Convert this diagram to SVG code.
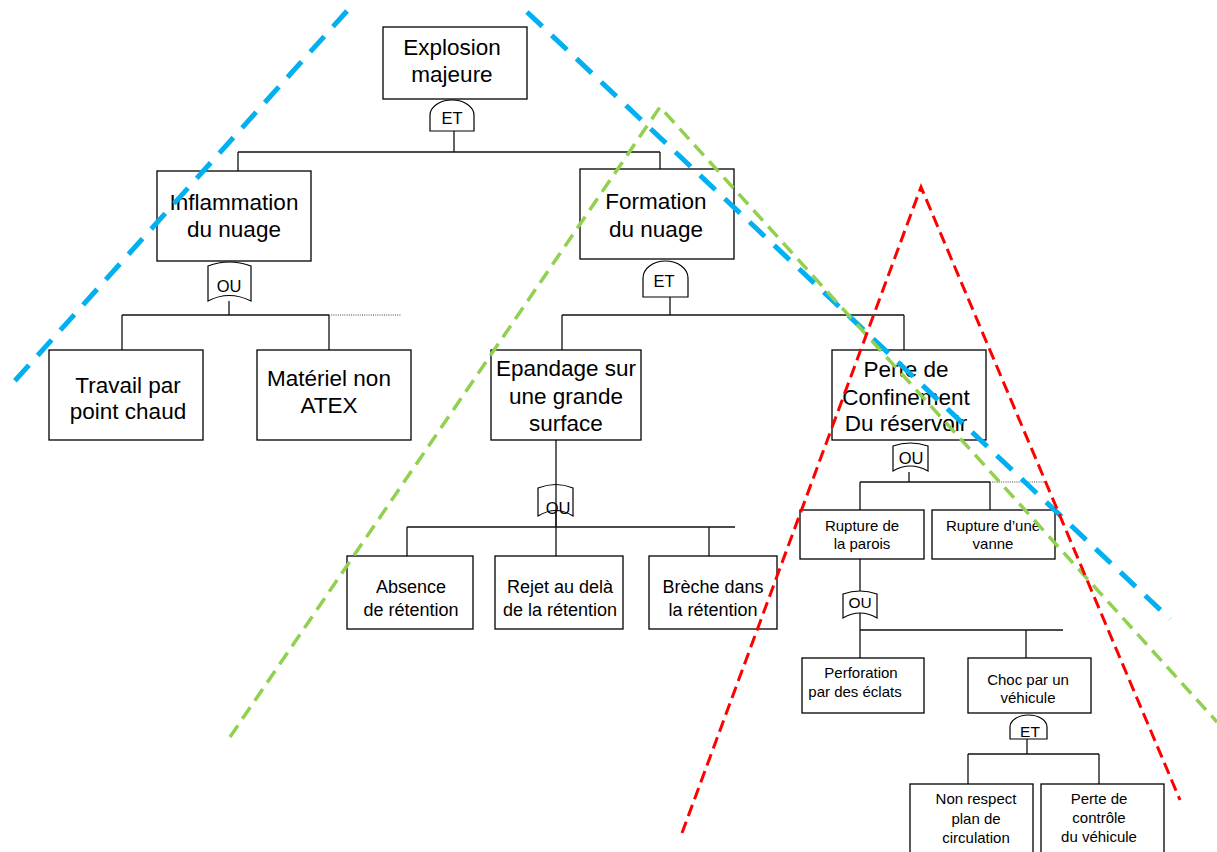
<svg xmlns="http://www.w3.org/2000/svg" width="1217" height="852" viewBox="0 0 1217 852">
<style>
.box{fill:#fff;stroke:#000;stroke-width:1.3}
.gate{fill:#fff;stroke:#000;stroke-width:1.2}
.conn{fill:none;stroke:#111;stroke-width:1.3}
.dot{fill:none;stroke:#444;stroke-width:1.2;stroke-dasharray:1 1.2}
text{font-family:"Liberation Sans",Arial,sans-serif;fill:#000;text-anchor:middle}
.t22{font-size:22.5px}
.t18{font-size:18px}
.t15{font-size:15px}
.g15{font-size:16.5px}
.g14{font-size:15.5px}
.blue{fill:none;stroke:#00B0F0;stroke-width:5;stroke-dasharray:21 13}
.green{fill:none;stroke:#92D050;stroke-width:3.5;stroke-dasharray:14 8}
.red{fill:none;stroke:#FF0000;stroke-width:3;stroke-dasharray:12 6}
</style>
<rect width="1217" height="852" fill="#fff"/>
<g id="connectors">
<path class="conn" d="M454,131V152M238,152H660M238,152V171M660,152V169"/>
<path class="conn" d="M229,301V315M122,315H329M122,315V350M329,315V350"/>
<path class="dot" d="M329,315H401"/>
<path class="conn" d="M670,297V315M562,315H904M562,315V350M904,315V350"/>
<path class="conn" d="M556,440V527M407,527H735M407,527V556M556,527V556M709,527V556"/>
<path class="conn" d="M909,472V482M860,482H990M860,482V510M990,482V510"/>
<path class="dot" d="M990,482H1046"/>
<path class="conn" d="M860,559V630M860,630H1063M860,630V658M1026,630V658"/>
<path class="conn" d="M1027,739V754M968,754H1099M968,754V784M1099,754V784"/>
</g>
<g id="n-explosion"><rect class="box" x="383" y="27" width="144" height="72"/><text class="t22" x="452" y="55">Explosion</text><text class="t22" x="452" y="82">majeure</text></g>
<g id="g-et1"><path class="gate" d="M430,131V115A22,15 0 0 1 474,115V131Z"/><text class="g15" x="452" y="124">ET</text></g>
<g id="n-inflammation"><rect class="box" x="157" y="171" width="154" height="90"/><text class="t22" x="234" y="210">Inflammation</text><text class="t22" x="234" y="237">du nuage</text></g>
<g id="g-ou1"><path class="gate" d="M208,301V266Q229,258 251,266V301Q229,290 208,301Z"/><text class="g15" x="229" y="292">OU</text></g>
<g id="n-travail"><rect class="box" x="49" y="350" width="154" height="90"/><text class="t22" x="128" y="393">Travail par</text><text class="t22" x="128" y="419">point chaud</text></g>
<g id="n-materiel"><rect class="box" x="257" y="350" width="154" height="90"/><text class="t22" x="329" y="386">Matériel non</text><text class="t22" x="329" y="413">ATEX</text></g>
<g id="n-formation"><rect class="box" x="580" y="169" width="154" height="90"/><text class="t22" x="656" y="209">Formation</text><text class="t22" x="656" y="237">du nuage</text></g>
<g id="g-et2"><path class="gate" d="M643,297V278A22.5,17 0 0 1 688,278V297Z"/><text class="g15" x="664" y="287">ET</text></g>
<g id="n-epandage"><rect class="box" x="491" y="350" width="150" height="90"/><text class="t22" x="566" y="376">Epandage sur</text><text class="t22" x="566" y="404">une grande</text><text class="t22" x="566" y="431">surface</text></g>
<g id="g-ou2"><path class="gate" d="M538,516V488Q556,481 573,488V516Q556,505 538,516Z"/><text class="g15" x="558" y="514">OU</text><path class="conn" d="M556,484V527"/></g>
<g id="n-absence"><rect class="box" x="347" y="556" width="126" height="73"/><text class="t18" x="411" y="593">Absence</text><text class="t18" x="411" y="616">de rétention</text></g>
<g id="n-rejet"><rect class="box" x="495" y="556" width="128" height="73"/><text class="t18" x="560" y="593">Rejet au delà</text><text class="t18" x="560" y="616">de la rétention</text></g>
<g id="n-breche"><rect class="box" x="649" y="556" width="128" height="73"/><text class="t18" x="713" y="593">Brèche dans</text><text class="t18" x="713" y="616">la rétention</text></g>
<g id="n-perte"><rect class="box" x="832" y="350" width="154" height="90"/><text class="t22" x="906" y="377">Perte de</text><text class="t22" x="906" y="405">Confinement</text><text class="t22" x="906" y="431">Du réservoir</text></g>
<g id="g-ou3"><path class="gate" d="M893,471V446Q910,440 928,446V471Q910,461 893,471Z"/><text class="g15" x="911" y="464">OU</text></g>
<g id="n-parois"><rect class="box" x="800" y="510" width="124" height="49"/><text class="t15" x="862" y="531">Rupture de</text><text class="t15" x="862" y="549">la parois</text></g>
<g id="n-vanne"><rect class="box" x="932" y="510" width="123" height="49"/><text class="t15" x="993" y="531">Rupture d’une</text><text class="t15" x="993" y="549">vanne</text></g>
<g id="g-ou4"><path class="gate" d="M843,618V594Q860,588 877,594V618Q860,608 843,618Z"/><text class="g14" x="860" y="608">OU</text></g>
<g id="n-perforation"><rect class="box" x="802" y="658" width="122" height="55"/><text class="t15" x="861" y="678">Perforation</text><text class="t15" x="855" y="697">par des éclats</text></g>
<g id="n-choc"><rect class="box" x="968" y="658" width="123" height="55"/><text class="t15" x="1028" y="685">Choc par un</text><text class="t15" x="1028" y="703">véhicule</text></g>
<g id="g-et3"><path class="gate" d="M1010,739V727A18.5,12 0 0 1 1047,727V739Z"/><text class="g14" x="1030" y="737">ET</text></g>
<g id="n-nonrespect"><rect class="box" x="910" y="784" width="123" height="75"/><text class="t15" x="976" y="804">Non respect</text><text class="t15" x="976" y="824">plan de</text><text class="t15" x="976" y="843">circulation</text></g>
<g id="n-pertecontrole"><rect class="box" x="1041" y="784" width="123" height="75"/><text class="t15" x="1099" y="804">Perte de</text><text class="t15" x="1099" y="823">contrôle</text><text class="t15" x="1099" y="842">du véhicule</text></g>
<g id="zones">
<path class="blue" d="M347,11L12,384"/>
<path class="blue" d="M527,12L1170,619"/>
<path class="green" d="M230,737L660,107L1217,722"/>
<path class="red" d="M682,833L921,187L1180,800"/>
</g>
</svg>
